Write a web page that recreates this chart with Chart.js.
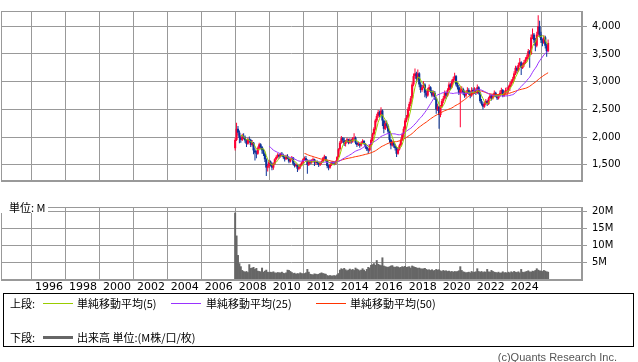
<!DOCTYPE html>
<html>
<head>
<meta charset="utf-8">
<script src="https://cdn.jsdelivr.net/npm/chart.js@4/dist/chart.umd.min.js"></script>
<style>
  body { margin: 0; background: #fff; width: 638px; height: 362px; position: relative; overflow: hidden; font-family: "Noto Sans CJK JP", "DejaVu Sans", sans-serif; }
  canvas { position: absolute; left: 0; }
  .t { position: absolute; font-size: 11px; line-height: 12px; color: #000; white-space: nowrap; }
  .ln { position: absolute; height: 1px; width: 30px; }
</style>
</head>
<body>
<canvas id="price" width="638" height="192" style="top:0"></canvas>
<canvas id="volume" width="638" height="100" style="top:196px"></canvas>
<div class="t" style="left:1px;top:202px;width:47px;height:11px;line-height:11px;background:#fff;padding-left:8px;box-sizing:border-box">単位: M</div>

<div style="position:absolute;left:3px;top:293px;width:631px;height:54px;border:1px solid #000;box-sizing:border-box"></div>
<div class="t" style="left:10px;top:297px">上段:</div>
<div class="ln" style="left:43px;top:303px;background:#99cc00"></div>
<div class="t" style="left:77px;top:297px">単純移動平均(5)</div>
<div class="ln" style="left:171px;top:303px;background:#9933ff"></div>
<div class="t" style="left:206px;top:297px">単純移動平均(25)</div>
<div class="ln" style="left:316px;top:303px;background:#ff3300"></div>
<div class="t" style="left:350px;top:297px">単純移動平均(50)</div>
<div class="t" style="left:10px;top:331px">下段:</div>
<div class="ln" style="left:43px;top:336px;height:3px;background:#666"></div>
<div class="t" style="left:77px;top:331px">出来高 単位:(M株/口/枚)</div>
<div class="t" style="left:480px;top:351px;width:137px;text-align:right;color:#555;font-family:'Liberation Sans',sans-serif">(c)Quants Research Inc.</div>

<script>
// monthly candles, Dec 2006 .. May 2025
const startYear = 2006;
const startMonth = 12;

const opens = [
  1800,
  1950,2150,2080,1990,1950,2010,1990,1940,1880,1960,1950,1860,
  1900,1760,1720,1700,1800,1870,1820,1760,1700,1600,1450,1480,
  1560,1520,1450,1520,1600,1640,1680,1650,1700,1680,1640,1600,
  1660,1620,1560,1600,1630,1520,1480,1500,1430,1460,1500,1540,
  1600,1620,1580,1500,1560,1540,1580,1600,1540,1560,1530,1500,
  1540,1560,1620,1650,1580,1480,1450,1500,1540,1530,1520,1560,
  1640,1780,1900,1980,1940,1880,1920,1960,1900,1950,1920,1980,
  1990,1900,1860,1880,1850,1900,1930,1880,1820,1780,1760,1850,
  1950,2050,2150,2300,2380,2450,2400,2480,2300,2150,2250,2200,
  2100,1950,1850,1900,1850,1800,1700,1780,1850,1950,2050,2150,
  2300,2350,2500,2600,2700,2950,3100,3150,3050,3150,2950,2850,
  2900,2950,2800,2750,2850,2900,2820,2750,2800,2700,2500,2550,
  2400,2550,2650,2700,2800,2750,2850,2950,2900,3000,3050,3100,
  2950,2900,2800,2850,2870,2800,2750,2800,2850,2800,2750,2850,
  2800,2850,2800,2900,2800,2650,2600,2550,2600,2650,2600,2700,
  2750,2700,2750,2800,2750,2700,2750,2800,2850,2750,2800,2850,
  2850,2900,2950,3000,3050,3150,3250,3200,3300,3350,3250,3300,
  3350,3400,3450,3550,3500,3800,3850,3750,3650,3850,4000,3850,
  3750,3700,3800,3650,3550
];
const highs = [
  1990,
  2260,2200,2120,2030,2060,2070,2030,1960,1990,2010,1970,1950,
  1910,1800,1760,1830,1900,1890,1840,1790,1720,1620,1520,1590,
  1580,1540,1540,1620,1670,1710,1700,1720,1730,1700,1660,1680,
  1690,1640,1620,1660,1640,1540,1530,1510,1480,1520,1560,1620,
  1650,1660,1600,1580,1590,1600,1630,1610,1580,1580,1550,1560,
  1580,1640,1680,1660,1590,1500,1520,1560,1570,1550,1580,1660,
  1800,1930,2020,2000,1990,1950,1990,1970,1980,1970,2000,2070,
  2010,1920,1910,1890,1920,1960,1950,1890,1840,1800,1870,1980,
  2080,2180,2330,2420,2490,2480,2540,2500,2320,2290,2300,2230,
  2120,1970,1940,1930,1880,1820,1810,1880,1980,2080,2190,2340,
  2400,2540,2640,2740,2990,3150,3240,3180,3220,3170,2990,2940,
  3010,2970,2840,2890,2950,2920,2850,2840,2830,2720,2600,2570,
  2580,2690,2740,2840,2820,2880,2990,2970,3040,3090,3160,3120,
  2990,2940,2900,2920,2890,2840,2840,2900,2880,2830,2900,2880,
  2900,2880,2950,2920,2820,2690,2630,2640,2690,2670,2730,2780,
  2770,2780,2840,2820,2770,2780,2840,2890,2870,2830,2890,2900,
  2930,2990,3040,3090,3190,3290,3280,3340,3430,3370,3340,3390,
  3440,3490,3590,3570,3850,3960,3880,3790,3900,4200,4100,3900,
  3780,3840,3830,3690,3760
];
const lows = [
  1760,
  1930,2030,1890,1900,1930,1960,1900,1820,1860,1900,1820,1830,
  1690,1580,1620,1680,1780,1790,1700,1660,1550,1300,1380,1440,
  1470,1400,1410,1500,1580,1620,1610,1630,1650,1610,1560,1590,
  1600,1530,1540,1590,1490,1450,1460,1370,1400,1430,1480,1520,
  1580,1560,1340,1480,1510,1520,1560,1480,1500,1500,1460,1480,
  1510,1540,1600,1560,1440,1400,1430,1480,1500,1490,1500,1550,
  1630,1760,1880,1900,1840,1830,1900,1870,1880,1880,1900,1950,
  1870,1820,1840,1810,1830,1880,1860,1790,1750,1700,1740,1830,
  1920,2030,2120,2270,2350,2360,2380,2200,2070,2130,2170,2060,
  1900,1780,1830,1810,1760,1640,1680,1760,1830,1930,2000,2130,
  2270,2330,2470,2560,2680,2920,3060,2980,3020,2900,2800,2820,
  2880,2720,2700,2730,2820,2790,2720,2730,2670,2420,2470,2150,
  2360,2530,2610,2680,2690,2730,2830,2850,2880,2970,3020,2920,
  2860,2760,2180,2790,2760,2710,2720,2780,2760,2700,2730,2770,
  2780,2760,2780,2770,2620,2570,2500,2530,2580,2560,2580,2680,
  2660,2680,2720,2720,2670,2680,2730,2780,2720,2730,2780,2780,
  2800,2830,2920,2970,3030,3120,3150,3180,3270,3120,3230,3270,
  3320,3370,3420,3250,3480,3770,3700,3550,3620,3820,3800,3700,
  3640,3680,3600,3450,3530
];
const closes = [
  1950,
  2150,2080,1990,1950,2010,1990,1940,1880,1960,1950,1860,1900,
  1760,1720,1700,1800,1870,1820,1760,1700,1600,1450,1480,1560,
  1520,1450,1520,1600,1640,1680,1650,1700,1680,1640,1600,1660,
  1620,1560,1600,1630,1520,1480,1500,1430,1460,1500,1540,1600,
  1620,1580,1500,1560,1540,1580,1600,1540,1560,1530,1500,1540,
  1560,1620,1650,1580,1480,1450,1500,1540,1530,1520,1560,1640,
  1780,1900,1980,1940,1880,1920,1960,1900,1950,1920,1980,1990,
  1900,1860,1880,1850,1900,1930,1880,1820,1780,1760,1850,1950,
  2050,2150,2300,2380,2450,2400,2480,2300,2150,2250,2200,2100,
  1950,1850,1900,1850,1800,1700,1780,1850,1950,2050,2150,2300,
  2350,2500,2600,2700,2950,3100,3150,3050,3150,2950,2850,2900,
  2950,2800,2750,2850,2900,2820,2750,2800,2700,2500,2550,2400,
  2550,2650,2700,2800,2750,2850,2950,2900,3000,3050,3100,2950,
  2900,2800,2850,2870,2800,2750,2800,2850,2800,2750,2850,2800,
  2850,2800,2900,2800,2650,2600,2550,2600,2650,2600,2700,2750,
  2700,2750,2800,2750,2700,2750,2800,2850,2750,2800,2850,2850,
  2900,2950,3000,3050,3150,3250,3200,3300,3350,3250,3300,3350,
  3400,3450,3550,3500,3800,3850,3750,3650,3850,4000,3850,3750,
  3700,3800,3650,3550,3700
];
// volume, millions of shares
const volumes = [
  19.7,
  13.0,7.3,4.9,4.0,2.9,2.6,2.4,2.6,2.3,4.6,3.5,3.6,
  3.8,3.2,3.5,2.7,2.6,2.5,3.6,2.4,2.7,3.0,2.4,2.3,
  2.4,2.3,2.5,2.2,2.1,2.3,2.2,2.2,2.4,2.1,2.0,2.2,
  3.0,2.9,2.6,2.3,2.0,2.1,1.8,2.0,1.9,2.2,2.0,1.9,
  2.0,2.2,3.2,2.4,1.8,1.7,1.6,1.9,1.8,1.7,1.8,2.0,
  2.2,2.0,1.9,1.8,1.4,1.3,1.4,1.3,1.3,1.4,1.3,1.6,
  2.0,3.0,3.4,3.2,3.5,3.1,2.8,3.0,3.3,3.0,3.2,2.9,
  3.6,3.3,3.1,2.8,3.0,3.4,3.0,2.6,3.2,3.8,3.6,4.4,
  4.6,4.9,4.4,5.8,4.7,4.5,4.3,6.6,4.2,4.0,3.9,3.8,
  4.0,4.2,4.3,3.9,3.8,4.0,3.9,3.7,3.8,4.0,3.9,4.1,
  3.8,3.9,4.0,3.6,4.2,4.0,3.8,3.7,3.5,3.6,3.4,3.3,
  3.4,3.5,3.2,3.0,3.1,2.9,3.1,2.8,2.9,3.2,3.0,3.1,
  2.8,2.6,2.9,2.7,2.8,2.6,2.7,2.5,2.6,2.4,2.6,2.5,
  2.6,2.8,4.0,2.9,2.5,2.4,2.2,2.3,2.4,2.2,2.6,2.3,
  2.4,2.5,3.4,2.6,2.4,2.6,2.3,2.5,2.4,3.2,2.5,2.4,
  2.9,2.6,2.4,2.3,2.2,2.4,2.1,2.2,2.5,2.2,2.3,2.1,
  2.4,2.2,2.5,2.3,2.6,2.4,2.3,2.5,2.2,3.2,2.4,2.3,
  2.5,2.6,2.8,2.5,2.4,2.7,2.6,2.9,3.4,3.0,2.8,2.7,
  2.6,2.9,2.7,2.5,2.4
];

const yearTicks = [1996,1998,2000,2002,2004,2006,2008,2010,2012,2014,2016,2018,2020,2022,2024];
const priceTicks = [1500,2000,2500,3000,3500,4000];
const volumeTicks = [5,10,15,20];

const UP = '#ff0033';
const DOWN = '#0a3399';
const GRID = '#999';

// month labels and their position on the year axis
const months = closes.map((_, i) => {
  const m = startMonth - 1 + i;
  return (startYear + Math.floor(m / 12)) + '-' + String(m % 12 + 1).padStart(2, '0');
});
const xPos = months.map(s => {
  const [y, m] = s.split('-').map(Number);
  return y + (m - 0.5) / 12;
});

function movingAverage(values, n) {
  return values.map((v, i) => {
    if (i < n - 1) return null;
    let sum = 0;
    for (let k = i - n + 1; k <= i; k++) sum += values[k];
    return sum / n;
  });
}

const ma5 = movingAverage(closes, 5);
const ma25 = movingAverage(closes, 25);
const ma50 = movingAverage(closes, 50);

const candleColor = ctx => closes[ctx.dataIndex] >= opens[ctx.dataIndex] ? UP : DOWN;

const panelBox = {
  id: 'panelBox',
  afterDraw(chart) {
    const a = chart.chartArea;
    const c = chart.ctx;
    c.save();
    c.strokeStyle = GRID;
    c.lineWidth = 1;
    c.strokeRect(Math.round(a.left) + 0.5, Math.round(a.top) + 0.5,
      Math.round(a.right - a.left) - 1, Math.round(a.bottom - a.top) - 1);
    c.restore();
  }
};

const X_MIN = 1993.18;
const X_MAX = 2027.37;

function lineSet(data, color) {
  return {
    type: 'line',
    data: xPos.map((x, i) => ({ x, y: data[i] })),
    borderColor: color,
    borderWidth: 1,
    pointRadius: 0,
    order: 0
  };
}

new Chart(document.getElementById('price'), {
  type: 'bar',
  data: {
    datasets: [
      lineSet(ma5, '#99cc00'),
      lineSet(ma25, '#9933ff'),
      lineSet(ma50, '#ff3300'),
      {
        data: xPos.map((x, i) => ({ x, y: [lows[i], highs[i]] })),
        backgroundColor: candleColor,
        grouped: false,
        maxBarThickness: 1,
        order: 2
      },
      {
        data: xPos.map((x, i) => ({ x, y: [opens[i], closes[i]] })),
        backgroundColor: candleColor,
        grouped: false,
        categoryPercentage: 1,
        barPercentage: 1.5,
        order: 1
      }
    ]
  },
  options: {
    responsive: false,
    animation: false,
    events: [],
    layout: { padding: { left: 1, top: 1, right: 0, bottom: 2 } },
    plugins: { legend: { display: false }, tooltip: { enabled: false } },
    scales: {
      x: {
        type: 'linear', min: X_MIN, max: X_MAX, offset: false,
        afterBuildTicks: s => { s.ticks = yearTicks.map(v => ({ value: v })); },
        ticks: { display: false },
        grid: { color: GRID, drawTicks: false },
        border: { color: GRID }
      },
      y: {
        position: 'right', min: 1208, max: 4276,
        afterBuildTicks: s => { s.ticks = priceTicks.map(v => ({ value: v })); },
        afterFit: s => { s.width = 56; },
        ticks: {
          color: '#000', padding: 5,
          font: { family: 'DejaVu Sans', size: 10 },
          callback: v => v.toLocaleString('en-US')
        },
        grid: { color: GRID, tickLength: 5 },
        border: { color: GRID }
      }
    }
  },
  plugins: [panelBox]
});

new Chart(document.getElementById('volume'), {
  type: 'bar',
  data: {
    datasets: [{
      data: xPos.map((x, i) => ({ x, y: volumes[i] })),
      backgroundColor: '#666',
      grouped: false,
      categoryPercentage: 1,
      barPercentage: 1.4
    }]
  },
  options: {
    responsive: false,
    animation: false,
    events: [],
    layout: { padding: { left: 1, top: 5, right: 0, bottom: 0 } },
    plugins: { legend: { display: false }, tooltip: { enabled: false } },
    scales: {
      x: {
        type: 'linear', min: X_MIN, max: X_MAX, offset: false,
        afterBuildTicks: s => { s.ticks = yearTicks.map(v => ({ value: v })); },
        afterFit: s => { s.height = 16; },
        ticks: {
          color: '#000', padding: 1, maxRotation: 0, autoSkip: false,
          font: { family: 'DejaVu Sans', size: 11 },
          callback: v => String(v)
        },
        grid: { color: GRID, drawTicks: false },
        border: { color: GRID }
      },
      y: {
        position: 'right', min: 0, max: 21.35,
        afterBuildTicks: s => { s.ticks = volumeTicks.map(v => ({ value: v })); },
        afterFit: s => { s.width = 56; },
        ticks: {
          color: '#000', padding: 5,
          font: { family: 'DejaVu Sans', size: 10 },
          callback: v => v + 'M'
        },
        grid: { color: GRID, tickLength: 5 },
        border: { color: GRID }
      }
    }
  },
  plugins: [panelBox]
});
</script>
</body>
</html>
